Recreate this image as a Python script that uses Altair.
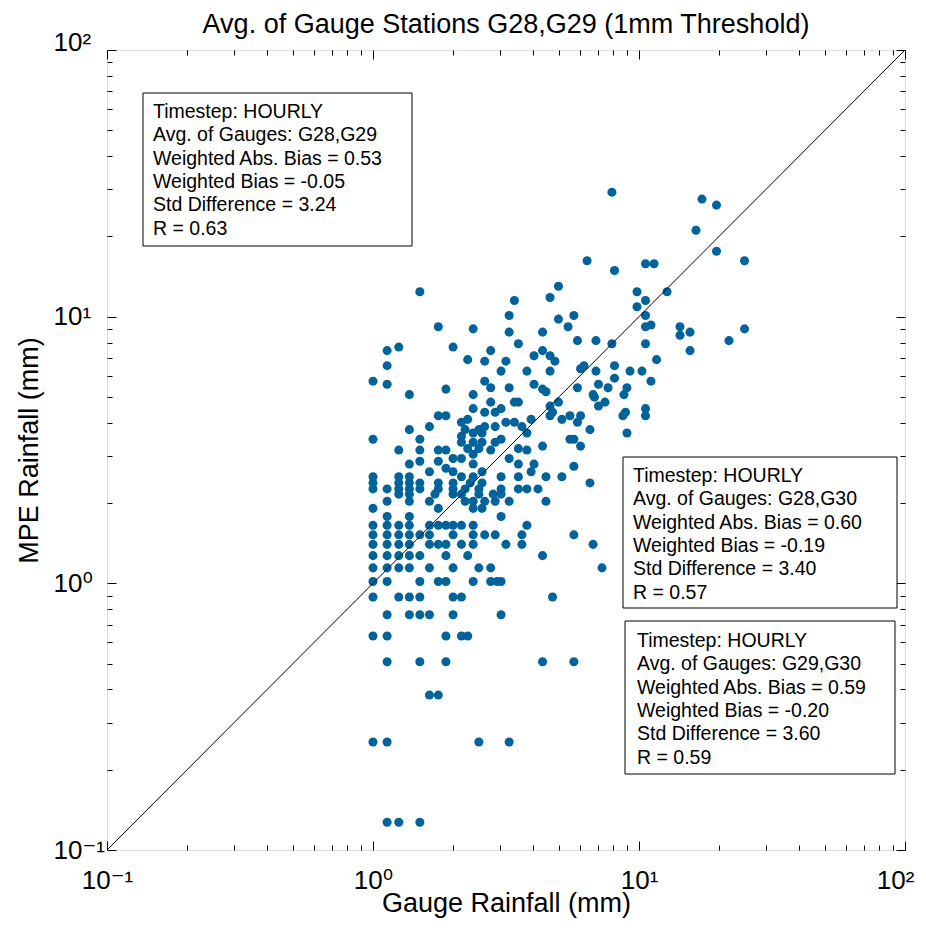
import altair as alt
import pandas as pd

FONT = "Liberation Sans, Arial, DejaVu Sans, sans-serif"
DOT = "#00649b"

# MPE values (quantised levels) and the gauge values plotted at each level
mpe_levels = [0.127, 0.254, 0.381, 0.508, 0.635, 0.762, 0.889, 1.016, 1.143, 1.27,
              1.40, 1.52, 1.65, 1.78, 1.91, 2.03, 2.16, 2.26, 2.38, 2.51,
              2.62, 2.70, 2.75, 2.80, 2.87, 2.94, 3.05, 3.16, 3.20, 3.27,
              3.38, 3.47, 3.56, 3.66, 3.77, 3.87, 4.02, 4.12, 4.25, 4.38,
              4.52, 4.62, 4.78, 4.99, 5.10, 5.23, 5.35, 5.41, 5.58, 5.73,
              5.88, 6.25, 6.38, 6.55, 6.81, 6.90, 7.14, 7.46, 7.69, 7.92,
              8.13, 8.52, 8.75, 9.00, 9.17, 9.30, 9.79, 10.1, 10.9, 11.5,
              11.8, 12.4, 13.0, 14.9, 15.8, 16.2, 17.6, 21.1, 26.2, 27.6,
              29.3]
gauge_rows = [
    [1.13, 1.25, 1.5],
    [1.0, 1.13, 2.5, 3.25],
    [1.63, 1.76],
    [1.13, 1.5, 1.88, 4.34, 5.69],
    [1.0, 1.13, 1.88, 2.15, 2.27],
    [1.13, 1.37, 1.5, 1.63, 2.0, 3.03],
    [1.0, 1.25, 1.37, 1.5, 2.0, 2.15, 4.73],
    [1.0, 1.13, 1.5, 1.76, 1.88, 2.38, 2.77, 2.93, 3.03],
    [1.0, 1.13, 1.25, 1.37, 1.63, 2.0, 2.5, 2.77, 7.26],
    [1.0, 1.13, 1.25, 1.37, 1.5, 1.88, 2.27, 4.34],
    [1.0, 1.13, 1.25, 1.37, 1.63, 1.76, 1.88, 2.15, 2.38, 3.16, 3.63, 6.72],
    [1.0, 1.13, 1.25, 1.37, 1.5, 1.63, 2.0, 2.38, 2.63, 2.88, 3.63, 5.69],
    [1.0, 1.13, 1.25, 1.37, 1.63, 1.76, 1.88, 2.0, 2.15, 2.38, 3.79],
    [1.13, 1.37, 3.03],
    [1.0, 1.76, 2.38, 2.57],
    [1.13, 1.37, 1.63, 2.22, 2.38, 2.63, 2.88, 3.25, 4.47],
    [1.25, 1.37, 1.71, 2.0, 2.15, 2.5, 2.83, 3.03],
    [1.0, 1.13, 1.25, 1.37, 1.5, 1.76, 2.0, 2.22, 2.5, 3.03, 3.52, 3.79, 4.17],
    [1.0, 1.25, 1.37, 1.5, 1.76, 2.0, 2.32, 2.57, 6.54],
    [1.0, 1.25, 1.37, 2.15, 2.38, 3.03, 3.52, 4.47, 5.13],
    [1.63, 2.0, 2.57, 3.93],
    [1.88],
    [5.69],
    [1.37, 2.38, 3.52, 4.03],
    [1.5, 1.76],
    [2.0, 2.15, 3.25],
    [2.38],
    [1.25, 1.5, 1.76, 1.88, 2.77, 3.79],
    [2.27, 2.5, 3.52],
    [4.34, 6.03],
    [2.15, 2.38, 2.57, 2.88],
    [1.0, 1.5, 3.03, 5.50, 5.69],
    [2.15],
    [2.38, 2.57, 3.79, 9.01],
    [1.37, 2.22, 2.5, 6.54],
    [1.63, 2.63, 2.88, 3.63],
    [2.15, 3.16, 3.40, 5.87],
    [2.27, 3.93, 5.13],
    [1.76, 1.88, 4.63, 5.50, 6.03, 8.7, 10.58],
    [2.63, 2.88, 4.73, 8.9],
    [2.38, 3.03, 10.58],
    [4.63, 7.04],
    [2.77, 3.40, 3.52, 4.98, 7.45],
    [6.8],
    [1.37, 2.38, 6.72, 8.78],
    [4.47],
    [1.88, 4.34],
    [2.77, 3.25, 5.87, 7.65, 9.01],
    [1.13, 4.03, 7.04],
    [1.0, 2.63, 11.09],
    [8.09],
    [3.03, 3.79, 4.63, 6.89, 9.25, 10.26],
    [6.03],
    [1.13, 6.21, 8.09],
    [2.63, 3.16, 4.83],
    [2.27, 11.64],
    [4.03, 4.63],
    [1.13, 2.77, 4.34, 15.55],
    [1.25, 2.0],
    [3.52, 7.91, 10.58],
    [5.87, 6.89, 21.79],
    [14.26],
    [3.25, 4.34, 15.55],
    [2.38, 24.93],
    [1.76, 5.41, 10.58, 14.26],
    [11.09],
    [4.98],
    [3.25, 5.69, 10.58],
    [9.83],
    [3.40, 10.58],
    [4.63],
    [1.5, 9.83, 12.75],
    [4.98],
    [8.09],
    [10.58, 11.39],
    [6.38, 24.93],
    [19.56],
    [16.38],
    [19.56],
    [17.25],
    [7.91],
]

major_ticks = [0.1, 1, 10, 100]
major_labels = ["10\u207b\u00b9", "10\u2070", "10\u00b9", "10\u00b2"]
minor_ticks = [m * d for d in (0.1, 1, 10) for m in range(2, 10)]
line_ends = [0.1, 100]

title_text = "Avg. of Gauge Stations G28,G29 (1mm Threshold)"
box1_lines = ["Timestep: HOURLY", "Avg. of Gauges: G28,G29", "Weighted Abs. Bias = 0.53",
              "Weighted Bias = -0.05", "Std Difference = 3.24", "R = 0.63"]
box2_lines = ["Timestep: HOURLY", "Avg. of Gauges: G28,G30", "Weighted Abs. Bias = 0.60",
              "Weighted Bias = -0.19", "Std Difference = 3.40", "R = 0.57"]
box3_lines = ["Timestep: HOURLY", "Avg. of Gauges: G29,G30", "Weighted Abs. Bias = 0.59",
              "Weighted Bias = -0.20", "Std Difference = 3.60", "R = 0.59"]

pts = pd.DataFrame(
    [(g, m) for m, gs in zip(mpe_levels, gauge_rows) for g in gs],
    columns=["gauge", "mpe"],
)
diag = pd.DataFrame({"gauge": line_ends, "mpe": line_ends})
one = pd.DataFrame({"k": [0]})

label_expr = " : ".join(
    f"datum.value == {v} ? '{t}'" for v, t in zip(major_ticks, major_labels)
) + " : ''"

xs = alt.Scale(type="log", domain=[0.1, 100], nice=False)
ys = alt.Scale(type="log", domain=[0.1, 100], nice=False)

common = dict(domain=False, grid=False, tickColor="black", tickWidth=1)


def major_axis(orient, **kw):
    return alt.Axis(orient=orient, values=major_ticks, tickSize=9, offset=-9, **common, **kw)


def minor_axis(orient):
    return alt.Axis(orient=orient, values=minor_ticks, tickSize=5, offset=-5,
                    labels=False, title=None, **common)


top_shift = {"condition": {"test": "datum.value == 100", "value": -8}, "value": 0}
right_shift = {"condition": {"test": "datum.value == 100", "value": -10}, "value": 0}

points = alt.Chart(pts).mark_circle(size=82, color=DOT, opacity=1).encode(
    x=alt.X("gauge:Q", scale=xs, axis=major_axis(
        "bottom", labelExpr=label_expr, labelFont=FONT, labelFontSize=26,
        labelColor="black", labelPadding=17, labelAlign="center", labelBaseline="top",
        labelFlush=False, labelOverlap=False, labelOffset=right_shift,
        title="Gauge Rainfall (mm)", titleFont=FONT, titleFontSize=27,
        titleFontWeight="normal", titleColor="black", titlePadding=-3)),
    y=alt.Y("mpe:Q", scale=ys, axis=major_axis(
        "left", labelExpr=label_expr, labelFont=FONT, labelFontSize=26,
        labelColor="black", labelPadding=54, labelAlign="left", labelBaseline="middle",
        labelFlush=False, labelOverlap=False, labelOffset=top_shift,
        title="MPE Rainfall (mm)", titleFont=FONT, titleFontSize=27,
        titleFontWeight="normal", titleColor="black", titlePadding=10)),
)

diagonal = alt.Chart(diag).mark_line(color="black", strokeWidth=1).encode(
    x=alt.X("gauge:Q", scale=xs, axis=major_axis("top", labels=False, title=None)),
    y=alt.Y("mpe:Q", scale=ys, axis=major_axis("right", labels=False, title=None)),
)

minor_a = alt.Chart(diag).mark_line(opacity=0).encode(
    x=alt.X("gauge:Q", scale=xs, axis=minor_axis("bottom")),
    y=alt.Y("mpe:Q", scale=ys, axis=minor_axis("left")),
)
minor_b = alt.Chart(diag).mark_line(opacity=0).encode(
    x=alt.X("gauge:Q", scale=xs, axis=minor_axis("top")),
    y=alt.Y("mpe:Q", scale=ys, axis=minor_axis("right")),
)

title = alt.Chart(one).mark_text(
    text=title_text, align="center", baseline="alphabetic", font=FONT,
    fontSize=27, color="black").encode(x=alt.value(399), y=alt.value(-17))


def text_box(x1, y1, x2, y2, lines, tx, ty):
    rect = alt.Chart(one).mark_rect(fill="white", stroke="black", strokeWidth=1).encode(
        x=alt.value(x1), x2=alt.value(x2), y=alt.value(y1), y2=alt.value(y2))
    txt = alt.Chart(one).mark_text(
        text=lines, align="left", baseline="alphabetic", lineHeight=23.3,
        font=FONT, fontSize=19.5, color="black").encode(x=alt.value(tx), y=alt.value(ty))
    return rect + txt


chart = alt.layer(
    points, diagonal, minor_a, minor_b, title,
    text_box(36, 43, 305, 196, box1_lines, 46, 68),
    text_box(516, 407, 790, 558, box2_lines, 526, 432),
    text_box(518, 571, 788, 724, box3_lines, 530, 597),
).resolve_axis(x="independent", y="independent").properties(
    width=798, height=800,
    autosize=alt.AutoSizeParams(type="none"),
    padding={"left": 99, "top": 42, "right": 12, "bottom": 70},
).configure_view(stroke="black", strokeWidth=1).configure(background="white")

chart.save("out.html", embed_options={"renderer": "svg", "actions": False})
